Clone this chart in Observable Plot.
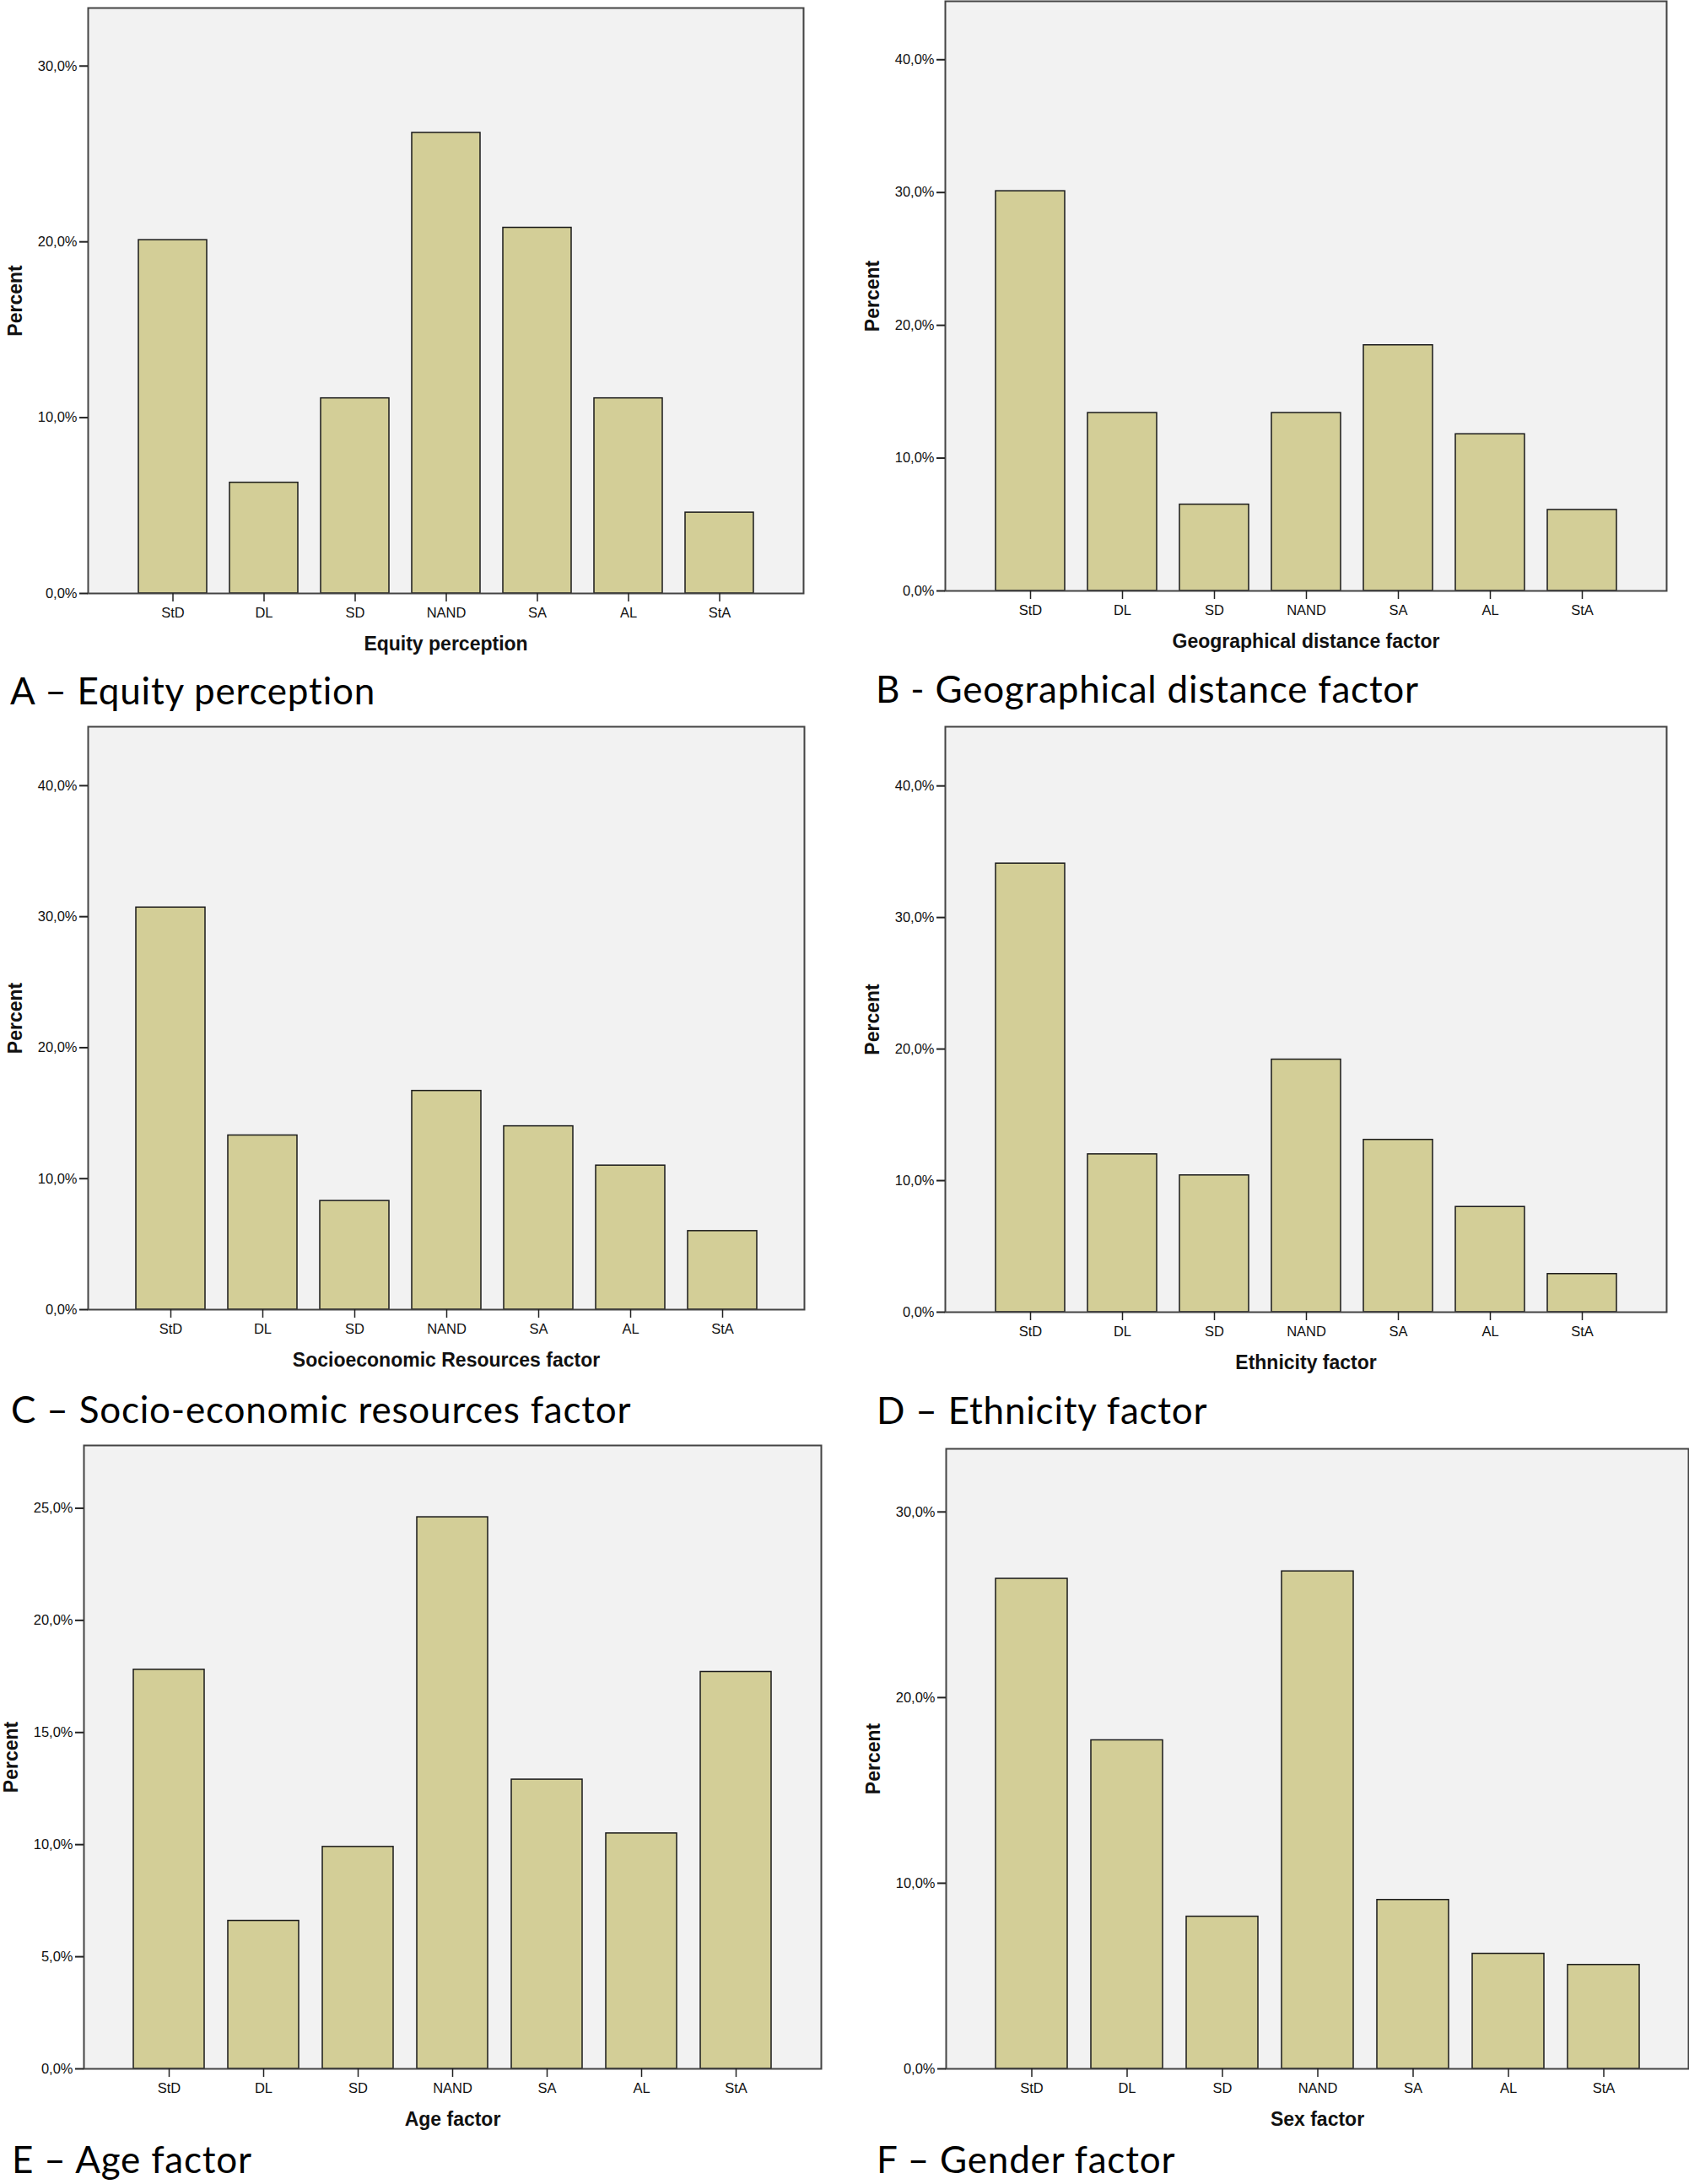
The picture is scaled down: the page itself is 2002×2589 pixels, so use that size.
<!DOCTYPE html>
<html><head><meta charset="utf-8">
<script src="https://cdn.jsdelivr.net/npm/d3@7"></script>
<script src="https://cdn.jsdelivr.net/npm/@observablehq/plot@0.6"></script>
<style>
html,body{margin:0;padding:0;background:#fff;overflow:hidden;}
#root{position:relative;width:2002px;height:2589px;overflow:hidden;}
.panel{position:absolute;}
.panel svg{overflow:visible;}
</style></head><body><div id="root"></div>
<script>
// ---- data ----
const categories = ["StD", "DL", "SD", "NAND", "SA", "AL", "StA"];
const equity     = [20.1, 6.3, 11.1, 26.2, 20.8, 11.1, 4.6];
const geographic = [30.1, 13.4, 6.5, 13.4, 18.5, 11.8, 6.1];
const socioeco   = [30.7, 13.3, 8.3, 16.7, 14.0, 11.0, 6.0];
const ethnicity  = [34.1, 12.0, 10.4, 19.2, 13.1, 8.0, 2.9];
const age        = [17.8, 6.6, 9.9, 24.6, 12.9, 10.5, 17.7];
const sex        = [26.4, 17.7, 8.2, 26.8, 9.1, 6.2, 5.6];
const ticks30 = [0, 10, 20, 30];
const ticks40 = [0, 10, 20, 30, 40];
const ticks25 = [0, 5, 10, 15, 20, 25];
const axisTitles = ["Equity perception", "Geographical distance factor", "Socioeconomic Resources factor", "Ethnicity factor", "Age factor", "Sex factor"];
const captions = ["A – Equity perception", "B - Geographical distance factor", "C – Socio-economic resources factor", "D – Ethnicity factor", "E – Age factor", "F – Gender factor"];
const yLabel = "Percent";

// ---- layout (frame: left, right, top, bottom in page px) ----
const panels = [
  {values: equity,     ticks: ticks30, yMax: 33.3, frame: [104, 952, 9, 703],    svgLeft: 0,    cap: [12, 835]},
  {values: geographic, ticks: ticks40, yMax: 44.4, frame: [1120, 1975, 1, 700],  svgLeft: 1005, cap: [1038, 833]},
  {values: socioeco,   ticks: ticks40, yMax: 44.5, frame: [104, 953, 861, 1552], svgLeft: 0,    cap: [13, 1687]},
  {values: ethnicity,  ticks: ticks40, yMax: 44.5, frame: [1120, 1975, 861, 1555], svgLeft: 1005, cap: [1039, 1688]},
  {values: age,        ticks: ticks25, yMax: 27.8, frame: [99, 973, 1713, 2452], svgLeft: 0,    cap: [14, 2576]},
  {values: sex,        ticks: ticks30, yMax: 33.4, frame: [1121, 2001, 1717, 2452], svgLeft: 1005, cap: [1039, 2576]}
];

const fmt = d => d.toFixed(1).replace(".", ",") + "%";
const root = document.getElementById("root");

panels.forEach((p, i) => {
  const mL = p.frame[0] - p.svgLeft, mT = 10, mB = 80, mR = 1;
  const W = p.frame[1] - p.svgLeft + mR;
  const H = mT + (p.frame[3] - p.frame[2]) + mB;
  const data = categories.map((c, k) => ({cat: c, val: p.values[k]}));
  const chart = Plot.plot({
    width: W, height: H,
    marginLeft: mL, marginRight: mR, marginTop: mT, marginBottom: mB,
    style: {fontFamily: "'Liberation Sans', Arial, sans-serif", fontSize: "16.5px", color: "#111", background: "transparent"},
    x: {type: "band", domain: categories, paddingInner: 0.25, paddingOuter: 0.515},
    y: {domain: [0, p.yMax]},
    marks: [
      Plot.frame({fill: "#f2f2f2"}),
      Plot.barY(data, {x: "cat", y: "val", fill: "#d3ce97", stroke: "#1a1a1a", strokeWidth: 1.5}),
      Plot.frame({stroke: "#444", strokeWidth: 2}),
      Plot.axisY({ticks: p.ticks, tickSize: 10, tickPadding: 3, tickFormat: fmt, label: null, stroke: "#222", strokeWidth: 2}),
      Plot.axisX({tickSize: 10, tickPadding: 7, label: null, stroke: "#222", strokeWidth: 1.5}),
      Plot.text([axisTitles[i]], {frameAnchor: "bottom", dy: 67, lineAnchor: "bottom", textAnchor: "middle", fontWeight: "bold", fontSize: 23, text: d => d, fill: "#111"}),
      Plot.text([yLabel], {frameAnchor: "left", dx: -86, rotate: -90, textAnchor: "middle", lineAnchor: "middle", fontWeight: "bold", fontSize: 23, text: d => d, fill: "#111"})
    ]
  });
  const div = document.createElement("div");
  div.className = "panel";
  div.style.left = p.svgLeft + "px";
  div.style.top = (p.frame[2] - mT) + "px";
  div.appendChild(chart);
  root.appendChild(div);
});

// captions below each panel
const cap = d3.select(root).append("svg")
  .attr("width", 2002).attr("height", 2589)
  .style("position", "absolute").style("left", "0px").style("top", "0px").style("pointer-events", "none");
panels.forEach((p, i) => {
  cap.append("text")
    .attr("x", p.cap[0]).attr("y", p.cap[1])
    .attr("font-family", "Lato, 'Open Sans', sans-serif")
    .attr("font-size", 44)
    .attr("letter-spacing", "0.8px")
    .attr("fill", "#000")
    .text(captions[i]);
});
</script>
</body></html>
